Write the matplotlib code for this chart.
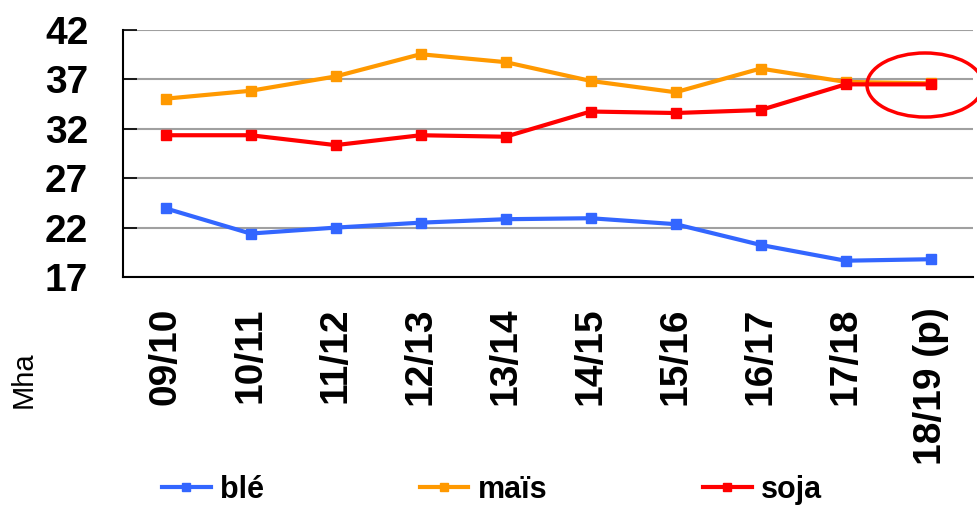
import matplotlib
matplotlib.use("Agg")
import matplotlib.pyplot as plt
from matplotlib.patches import Ellipse

plt.rcParams['font.family'] = ['Liberation Sans', 'DejaVu Sans']

campagnes = ["09/10", "10/11", "11/12", "12/13", "13/14", "14/15", "15/16", "16/17", "17/18", "18/19 (p)"]
ble = [23.95, 21.4, 22.0, 22.5, 22.85, 22.95, 22.35, 20.25, 18.65, 18.8]
mais = [35.05, 35.85, 37.3, 39.55, 38.75, 36.85, 35.7, 38.1, 36.75, 36.6]
soja = [31.35, 31.35, 30.35, 31.35, 31.2, 33.75, 33.6, 33.9, 36.5, 36.5]
yticks = [17, 22, 27, 32, 37, 42]

fig = plt.figure(figsize=(9.78, 5.08), dpi=100)
ax = fig.add_axes([0.1258, 0.4547, 0.8691, 0.4862])

x = range(len(campagnes))
ax.plot(x, ble, color="#3366FF", lw=3, marker="s", ms=6.5, label="blé")
ax.plot(x, mais, color="#FF9900", lw=3, marker="s", ms=6.5, label="maïs")
ax.plot(x, soja, color="#FF0000", lw=3, marker="s", ms=6.5, label="soja")

ax.set_xlim(-0.5, len(campagnes) - 0.5)
ax.set_ylim(17, 42)
ax.set_yticks(yticks)
ax.set_yticklabels([str(v) for v in yticks], fontsize=28, fontweight="bold")
ax.set_xticks(list(x))
ax.set_xticklabels(campagnes, rotation=90, fontsize=28, fontweight="bold", va="top")
ax.tick_params(axis="y", direction="in", length=10, width=1.2, pad=25)
ax.tick_params(axis="x", length=0, pad=22)
ax.yaxis.grid(True, color="#A0A0A0", lw=1.5)
ax.set_axisbelow(True)
for s in ["top", "right"]:
    ax.spines[s].set_visible(False)
ax.spines["left"].set_linewidth(1.5)
ax.spines["bottom"].set_linewidth(1.5)

fig.text(0.024, 1 - 380 / 508, "Mha", rotation=90, fontsize=21, ha="center", va="center")

leg = fig.legend(loc="center", bbox_to_anchor=(0.503, 1 - 490 / 508), ncol=3, frameon=False,
                 prop={"size": 22, "weight": "bold"}, handlelength=1.6, handletextpad=0.3,
                 columnspacing=5.1, markerscale=0.9)

# cercle autour de la prévision
fig.patches.append(Ellipse((925 / 978, 1 - 85 / 508), 116 / 978, 64 / 508,
                           transform=fig.transFigure, fill=False, ec="#FF0000", lw=2.5))

fig.savefig("out.png", dpi=100)
